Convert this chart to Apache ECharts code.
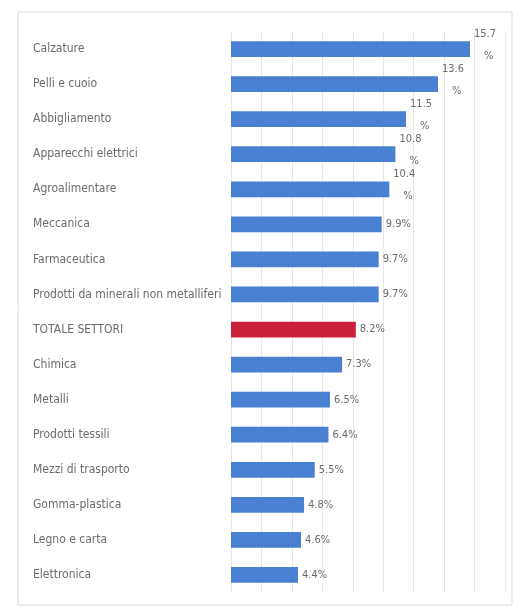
<!DOCTYPE html>
<html><head><meta charset="utf-8">
<script src="https://cdn.jsdelivr.net/npm/echarts@6/dist/echarts.min.js"></script>
<style>html,body{margin:0;padding:0;background:#fff}#c{width:529px;height:610px}</style>
</head><body><div id="c"></div>
<script>
const categories = ["Calzature","Pelli e cuoio","Abbigliamento","Apparecchi elettrici","Agroalimentare","Meccanica","Farmaceutica","Prodotti da minerali non metalliferi","TOTALE SETTORI","Chimica","Metalli","Prodotti tessili","Mezzi di trasporto","Gomma-plastica","Legno e carta","Elettronica"];
const values = [15.7,13.6,11.5,10.8,10.4,9.9,9.7,9.7,8.2,7.3,6.5,6.4,5.5,4.8,4.6,4.4];
const highlight = "TOTALE SETTORI";
const xTicks = {min:0, max:18, interval:2};

const FONT = '"Liberation Sans Narrow","DejaVu Sans Condensed",sans-serif';
const chart = echarts.init(document.getElementById('c'));
chart.setOption({
  animation:false,
  graphic:[{type:'rect',shape:{x:18,y:12,width:494,height:593},style:{fill:'none',stroke:'#d9d9d9',lineWidth:1},z:-1}],
  grid:{left:231,right:24,top:31.5,bottom:17.5},
  xAxis:{type:'value',min:xTicks.min,max:xTicks.max,interval:xTicks.interval,
    axisLabel:{show:false},axisLine:{show:false},axisTick:{show:false},
    splitLine:{lineStyle:{color:'#e6e6e6',width:1}}},
  yAxis:{type:'category',data:categories,inverse:true,
    axisLine:{show:false},axisTick:{show:false},
    axisLabel:{align:'left',margin:198,color:'#6b6b6b',fontFamily:FONT,fontSize:12}},
  series:[{type:'bar',barCategoryGap:'55%',
    data:values.map((v,i)=>({value:v,itemStyle:{color:categories[i]===highlight?'#c8203a':'#4a80d2'},
      label: v>=10 ? {formatter:'{a|'+v.toFixed(1)+'}\n{b|%}',offset:[0,-4],
        rich:{a:{lineHeight:22,color:'#6b6b6b',fontFamily:FONT,fontSize:11},b:{lineHeight:22,padding:[0,0,0,10],color:'#6b6b6b',fontFamily:FONT,fontSize:11}}}
        : {formatter:v.toFixed(1)+'%'}})),
    label:{show:true,position:'right',distance:4,color:'#6b6b6b',fontFamily:FONT,fontSize:11}
  }]
});
</script></body></html>
